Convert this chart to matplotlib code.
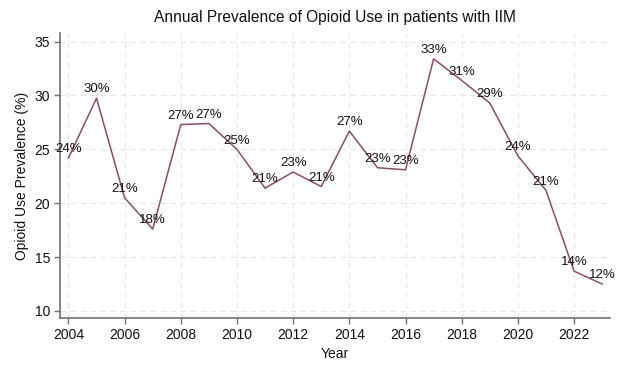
import matplotlib
import matplotlib.pyplot as plt

matplotlib.rc('font', family=['Liberation Sans', 'DejaVu Sans'], size=10)

years = list(range(2004, 2024))
prevalence = [24.2, 29.75, 20.5, 17.6, 27.3, 27.4, 25.0, 21.4, 22.9, 21.55,
              26.7, 23.3, 23.1, 33.4, 31.4, 29.3, 24.4, 21.2, 13.7, 12.5]
labels = ['24%', '30%', '21%', '18%', '27%', '27%', '25%', '21%', '23%', '21%',
          '27%', '23%', '23%', '33%', '31%', '29%', '24%', '21%', '14%', '12%']

fig = plt.figure(figsize=(6.24, 3.74), dpi=100)
ax = fig.add_axes([60/624, 1 - 318/374, 550/624, 285/374])

ax.plot(years, prevalence, color='#8b4f5a', lw=1.1)
for x, y, s in zip(years, prevalence, labels):
    ax.annotate(s, (x, y), xytext=(0, 2), textcoords='offset points',
                ha='center', va='bottom', fontsize=9.5, color='#111111')

ax.set_xlim(2003.7, 2023.28)
ax.set_ylim(9.35, 35.8)
ax.set_xticks(range(2004, 2024, 2))
ax.set_yticks([10, 15, 20, 25, 30, 35])
ax.grid(True, color='#e6e6e6', ls=(0, (5, 4)), lw=0.8)
ax.set_axisbelow(True)
for side in ['top', 'right']:
    ax.spines[side].set_visible(False)
for side in ['left', 'bottom']:
    ax.spines[side].set_color('#707070')
    ax.spines[side].set_linewidth(1.2)
ax.tick_params(color='#707070', length=4, width=1, labelcolor='#111111', pad=3)

ax.set_xlabel('Year', fontsize=10, labelpad=4, color='#111111')
ax.set_ylabel('Opioid Use Prevalence (%)', fontsize=10, labelpad=4, color='#111111')
ax.set_title('Annual Prevalence of Opioid Use in patients with IIM', fontsize=11.2, pad=8,
             color='#111111')

fig.savefig('out.png', dpi=100)
